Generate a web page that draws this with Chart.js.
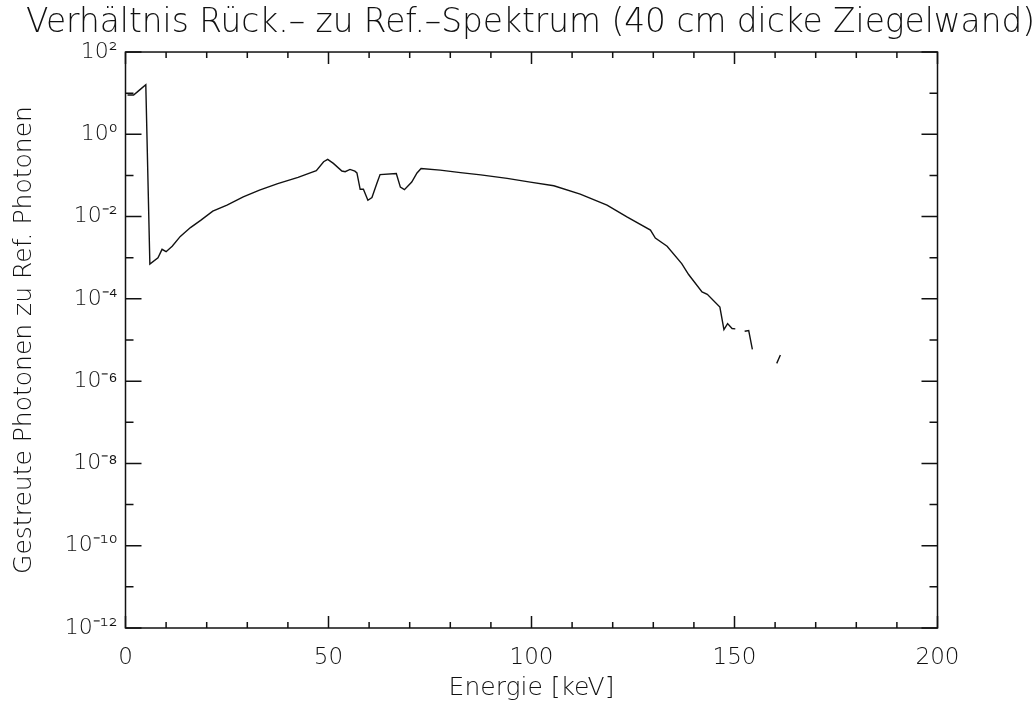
<!DOCTYPE html>
<html>
<head>
<meta charset="utf-8">
<script src="https://cdn.jsdelivr.net/npm/chart.js@4/dist/chart.umd.min.js"></script>
<style>
  html, body { margin: 0; padding: 0; background: #fff; }
  #wrap { width: 1035px; height: 704px; }
</style>
</head>
<body>
<div id="wrap"><canvas id="c" width="1035" height="704"></canvas></div>
<script>
const titleText = 'Verhältnis Rück.\u2013 zu Ref.\u2013Spektrum (40 cm dicke Ziegelwand)';
const xTitle = 'Energie [keV]';
const yTitle = 'Gestreute Photonen zu Ref. Photonen';

const energy = [0.5, 2, 3.5, 5, 6, 8, 9, 10, 11.5, 13.5, 16, 18.5, 21.5, 25, 29, 33, 37.5, 42.5, 45.5, 47,
  48.8, 49.8, 51.2, 53.3, 54.1, 55.3, 56.5, 57, 57.8, 58.6, 59.7, 60.7, 61.9, 62.7, 66.7, 67.7, 68.7, 70.5,
  71.8, 72.8, 77.5, 82.5, 87.5, 94, 99.7, 105.5, 112, 118.6, 123.5, 129.3, 130.5, 133.4, 137, 138.7, 142,
  143.3, 146.4, 147.4, 148.3, 149.4, 150.2, 151.3, 152.5, 153.5, 154.4, 157, 160.4, 161.3];
const ratio = [9.0, 9.0, 12, 16, 7e-4, 1.0e-3, 1.6e-3, 1.4e-3, 1.9e-3, 3.3e-3, 5.4e-3, 8.1e-3, 0.0135, 0.019,
  0.030, 0.044, 0.063, 0.09, 0.115, 0.13, 0.215, 0.245, 0.196, 0.128, 0.123, 0.14, 0.127, 0.115, 0.046, 0.046,
  0.025, 0.029, 0.064, 0.105, 0.111, 0.052, 0.045, 0.069, 0.115, 0.147, 0.135, 0.117, 0.103, 0.085, 0.069,
  0.056, 0.035, 0.019, 0.0098, 0.0047, 0.003, 0.0019, 7.2e-4, 3.9e-4, 1.48e-4, 1.29e-4, 6.3e-5, 1.8e-5,
  2.5e-5, 1.9e-5, 1.86e-5, null, 1.63e-5, 1.7e-5, 5.9e-6, null, 2.7e-6, 4.3e-6];

const xLabels = ['0', '50', '100', '150', '200'];
const yExponents = [2, 1, 0, -1, -2, -3, -4, -5, -6, -7, -8, -9, -10, -11, -12];
const supMap = {'0':'\u2070','1':'\u00b9','2':'\u00b2','3':'\u00b3','4':'\u2074','5':'\u2075','6':'\u2076','7':'\u2077','8':'\u2078','9':'\u2079','-':'\u207b'};
const yTickLabels = yExponents.map(e => e % 2 === 0 ? '10' + String(e).split('').map(c => supMap[c]).join('') : '');

const FONT = "'DejaVu Sans', 'Liberation Sans', sans-serif";
const W = 200;
const INK = '#111';

const frameTicks = {
  id: 'frameTicks',
  afterDatasetsDraw(chart) {
    const ctx = chart.ctx, a = chart.chartArea;
    const xs = chart.scales.x, ys = chart.scales.y;
    ctx.save();
    ctx.strokeStyle = INK;
    ctx.lineWidth = 1.5;
    ctx.strokeRect(a.left, a.top, a.right - a.left, a.bottom - a.top);
    ctx.beginPath();
    for (let v = 0; v <= 200; v += 10) {
      const px = xs.getPixelForValue(v);
      const len = (v % 50 === 0) ? 12 : 6;
      ctx.moveTo(px, a.bottom); ctx.lineTo(px, a.bottom - len);
      ctx.moveTo(px, a.top); ctx.lineTo(px, a.top + len);
    }
    yExponents.forEach(e => {
      const py = ys.getPixelForValue(Math.pow(10, e));
      const len = (e % 2 === 0) ? 16 : 8;
      ctx.moveTo(a.left, py); ctx.lineTo(a.left + len, py);
      ctx.moveTo(a.right, py); ctx.lineTo(a.right - len, py);
    });
    ctx.stroke();
    ctx.restore();
  }
};

new Chart(document.getElementById('c'), {
  type: 'line',
  data: {
    datasets: [{
      data: energy.map((e, i) => ({x: e, y: ratio[i]})),
      borderColor: INK,
      borderWidth: 1.4,
      pointRadius: 0,
      tension: 0,
      spanGaps: false,
      fill: false
    }]
  },
  options: {
    responsive: false,
    animation: false,
    layout: { padding: { left: 26, right: 0, top: 0, bottom: 0 } },
    plugins: {
      legend: { display: false },
      tooltip: { enabled: false },
      title: {
        display: true,
        text: titleText,
        color: INK,
        font: { family: FONT, size: 33.6, weight: W, lineHeight: 1.2 },
        padding: { top: 3, bottom: 8.7 }
      }
    },
    scales: {
      x: {
        type: 'linear',
        min: 0, max: 200,
        afterBuildTicks: s => { s.ticks = [0, 50, 100, 150, 200].map(v => ({value: v})); },
        afterFit: s => { s.height = 76; },
        grid: { display: false, drawTicks: false },
        border: { display: false },
        ticks: {
          color: INK,
          font: { family: FONT, size: 23, weight: W },
          padding: 16,
          maxRotation: 0,
          callback: (v, i) => xLabels[i]
        },
        title: {
          display: true, text: xTitle, color: INK,
          font: { family: FONT, size: 25, weight: W },
          padding: { top: 0, bottom: 1 }
        }
      },
      y: {
        type: 'logarithmic',
        min: 1e-12, max: 1e2,
        afterBuildTicks: s => { s.ticks = yExponents.map(e => ({value: Math.pow(10, e)})); },
        afterFit: s => { s.width = 99.5; },
        grid: { display: false, drawTicks: false },
        border: { display: false },
        ticks: {
          color: INK,
          font: { family: FONT, size: 22, weight: W },
          padding: 8,
          autoSkip: false,
          callback: (v, i) => yTickLabels[i]
        },
        title: {
          display: true, text: yTitle, color: INK,
          font: { family: FONT, size: 25, weight: W },
          padding: { top: -17, bottom: 0 }
        }
      },
      y2: {
        type: 'linear',
        position: 'right',
        min: 0, max: 1,
        afterFit: s => { s.width = 97.5; },
        grid: { display: false, drawTicks: false },
        border: { display: false },
        ticks: { display: false }
      }
    }
  },
  plugins: [frameTicks]
});
</script>
</body>
</html>
